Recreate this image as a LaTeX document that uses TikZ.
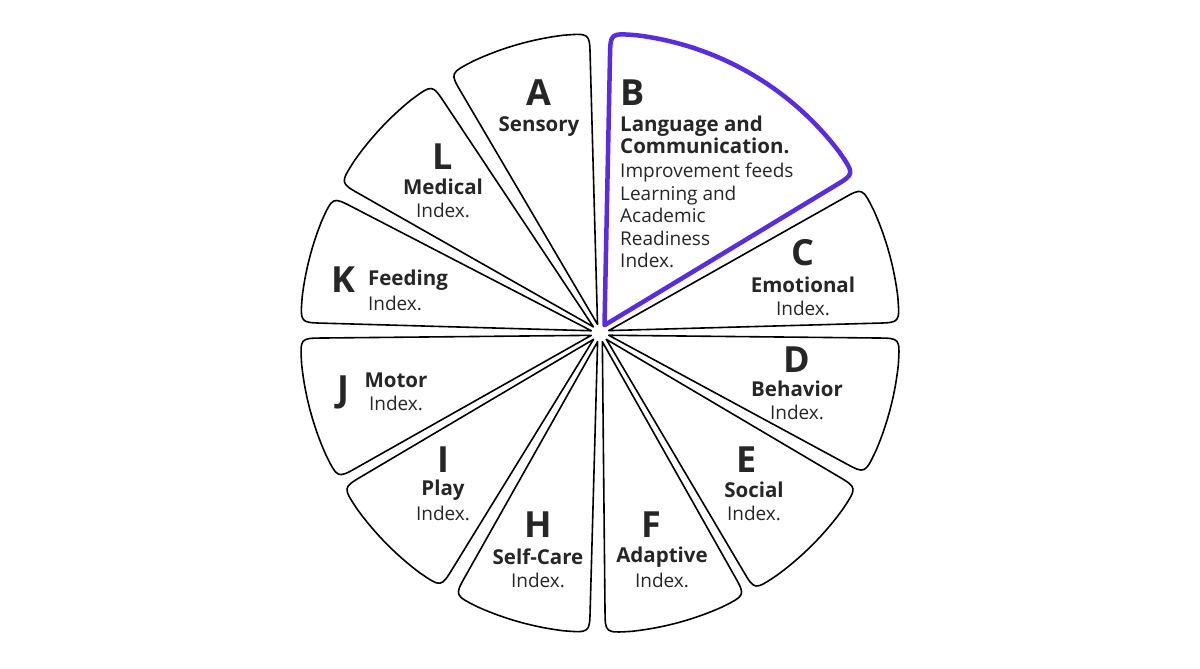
\documentclass[tikz,border=0pt]{standalone}
\usepackage{fontspec}
\setmainfont{Open Sans}
\usetikzlibrary{calc}
\definecolor{purp}{HTML}{5A2BE0}
\tikzset{
  petal/.style={draw=black, line width=1.6pt, line join=round, fill=white},
  sel/.style={draw=purp, line width=4.5pt, line join=round},
  big/.style={font=\fontsize{36}{36}\selectfont\bfseries, text=black!85},
  lab/.style={font=\fontsize{20.5}{22}\selectfont\bfseries, text=black!85},
  idx/.style={font=\fontsize{19}{22}\selectfont, text=black!85}
}
\newcommand\mypetal[3]{%
  \pgfmathsetmacro\pmid{(#1+#2)/2}%
  \pgfmathsetmacro\pa{#1-5}%
  \pgfmathsetmacro\pb{#2+5}%
  \draw[#3] (\pmid:9) -- ($(#1:300)!22pt!(\pmid:9)$) .. controls (#1:300) .. (\pa:300)
    arc[start angle=\pa, end angle=\pb, radius=300]
    .. controls (#2:300) .. ($(#2:300)!22pt!(\pmid:9)$) -- cycle;}
\begin{document}
\begin{tikzpicture}[x=1pt,y=-1pt]
\useasboundingbox[fill=white] (0,0) rectangle (1200,669);
\begin{scope}[shift={(600,333)}, yscale=-1]
  \mypetal{120}{92}{petal}
  \mypetal{29}{2}{petal}
  \mypetal{-1}{-28}{petal}
  \mypetal{-31}{-59}{petal}
  \mypetal{-61}{-89}{petal}
  \mypetal{-92}{-119}{petal}
  \mypetal{-122}{-149}{petal}
  \mypetal{-151}{-179}{petal}
  \mypetal{178}{153}{petal}
  \mypetal{150}{124}{petal}
  \mypetal{88}{32}{sel}
\end{scope}
% A
\node[big] (la) at (539,93) {A};
\node[lab] (ta) at (539,127) {Sensory};
% B
\node[big,anchor=west] (lb) at (617,93) {B};
\node[lab, anchor=north west, inner sep=0pt, align=left] (tb) at (620,116)
 {Language and\\Communication.};
\node[idx, anchor=north west, inner sep=0pt, align=left, font=\fontsize{19}{22.5}\selectfont] (tb2) at (620,163)
 {Improvement feeds\\Learning and\\Academic\\Readiness\\Index.};
% C
\node[big] (lc) at (803,253) {C};
\node[lab] (tc) at (803,285) {Emotional};
\node[idx] (ic) at (803,308) {Index.};
% D
\node[big] (ld) at (797,360) {D};
\node[lab] (td) at (797,389) {Behavior};
\node[idx] (id) at (797,412) {Index.};
% E
\node[big] (le) at (747,460) {E};
\node[lab] (te) at (754,490) {Social};
\node[idx] (ie) at (754,513) {Index.};
% F
\node[big] (lf) at (651,525) {F};
\node[lab] (tf) at (662,557) {Adaptive};
\node[idx] (if) at (662,580) {Index.};
% H
\node[big] (lh) at (538,525) {H};
\node[lab] (th) at (538,557) {Self-Care};
\node[idx] (ih) at (538,580) {Index.};
% I
\node[big] (li) at (443,460) {I};
\node[lab] (ti) at (443,490) {Play};
\node[idx] (ii) at (443,513) {Index.};
% J
\node[big] (lj) at (343,392) {J};
\node[lab] (tj) at (396,380) {Motor};
\node[idx] (ij) at (396,403) {Index.};
% K
\node[big] (lk) at (343,280) {K};
\node[lab] (tk) at (408,280) {Feeding};
\node[idx] (ik) at (395,303) {Index.};
% L
\node[big] (ll) at (443,157) {L};
\node[lab] (tl) at (443,187) {Medical};
\node[idx] (il) at (443,210) {Index.};
\end{tikzpicture}
\end{document}
